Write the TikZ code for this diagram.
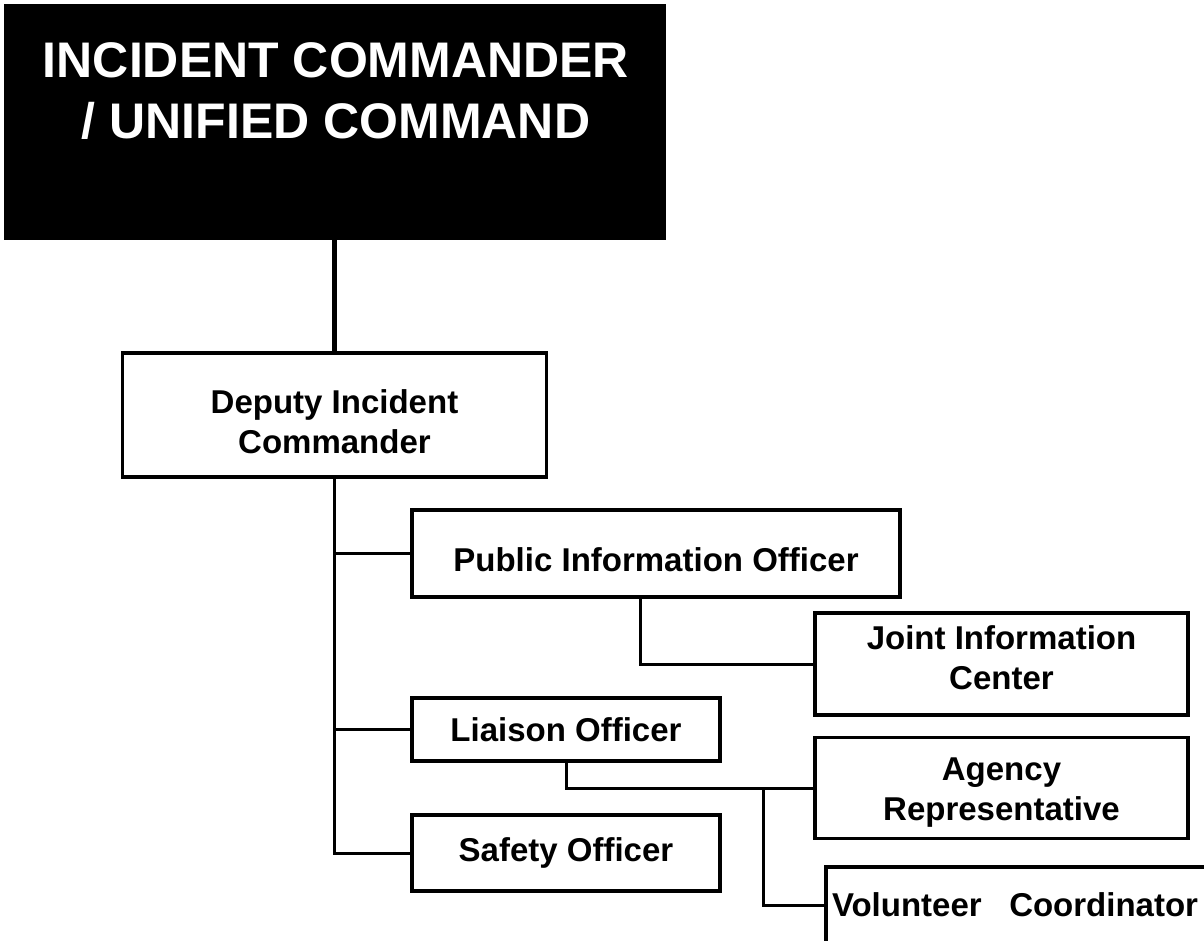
\documentclass[tikz,border=0pt]{standalone}
\usepackage{fontspec}
\setmainfont{Liberation Sans}
\begin{document}
\begin{tikzpicture}[x=1pt,y=-1pt,
  box/.style={draw, line width=3.5pt, fill=white, inner sep=0pt, align=center,
    font=\bfseries\fontsize{33}{40}\selectfont},
  icbox/.style={draw, fill=black, line width=1pt, inner sep=0pt},
  ictext/.style={text=white, inner sep=0pt, align=center,
    font=\bfseries\fontsize{50}{61}\selectfont},
  conn/.style={line width=3pt},
  topconn/.style={line width=4.5pt}]
\useasboundingbox (0,0) rectangle (1204,941);
\clip (0,0) rectangle (1204,941);
% nodes
\node[icbox, minimum width=661, minimum height=235] (IC) at (334.5,122.5) {};
\node[ictext, anchor=north] (ICtext) at (336,42) {INCIDENT COMMANDER\\/ UNIFIED COMMAND};
\node[box, minimum width=424, minimum height=124] (DIC) at (334.5,415) {\rule{0pt}{38pt}Deputy Incident\\Commander};
\node[box, minimum width=488, minimum height=87] (PIO) at (656,553.5) {\rule{0pt}{36pt}Public Information Officer};
\node[box, minimum width=373, minimum height=102] (JIC) at (1001.5,664) {Joint Information\\Center\rule[-12pt]{0pt}{12pt}};
\node[box, minimum width=308, minimum height=63] (LO) at (566,729.5) {Liaison Officer};
\node[box, minimum width=373, minimum height=101] (AR) at (1001.5,788) {\rule{0pt}{32pt}Agency\\Representative};
\node[box, minimum width=308, minimum height=76] (SO) at (566,853) {Safety Officer};
\node[box, minimum width=404, minimum height=76, text width=392, align=left, inner xsep=6pt] (VC) at (1028,905) {Volunteer\hspace{0.5em} Coordinator};
\coordinate (LJ) at (763,788);
% connectors
\draw[topconn] (IC.south) -- (DIC.north);
\draw[conn] (DIC.south) |- (SO.west);
\draw[conn] (DIC.south |- PIO.west) -- (PIO.west);
\draw[conn] (DIC.south |- LO.west) -- (LO.west);
\draw[conn] ([xshift=-16pt]PIO.south) |- (JIC.west);
\draw[conn] (LO.south) |- (AR.west);
\draw[conn] (LJ) |- (VC.west);
\end{tikzpicture}
\end{document}
